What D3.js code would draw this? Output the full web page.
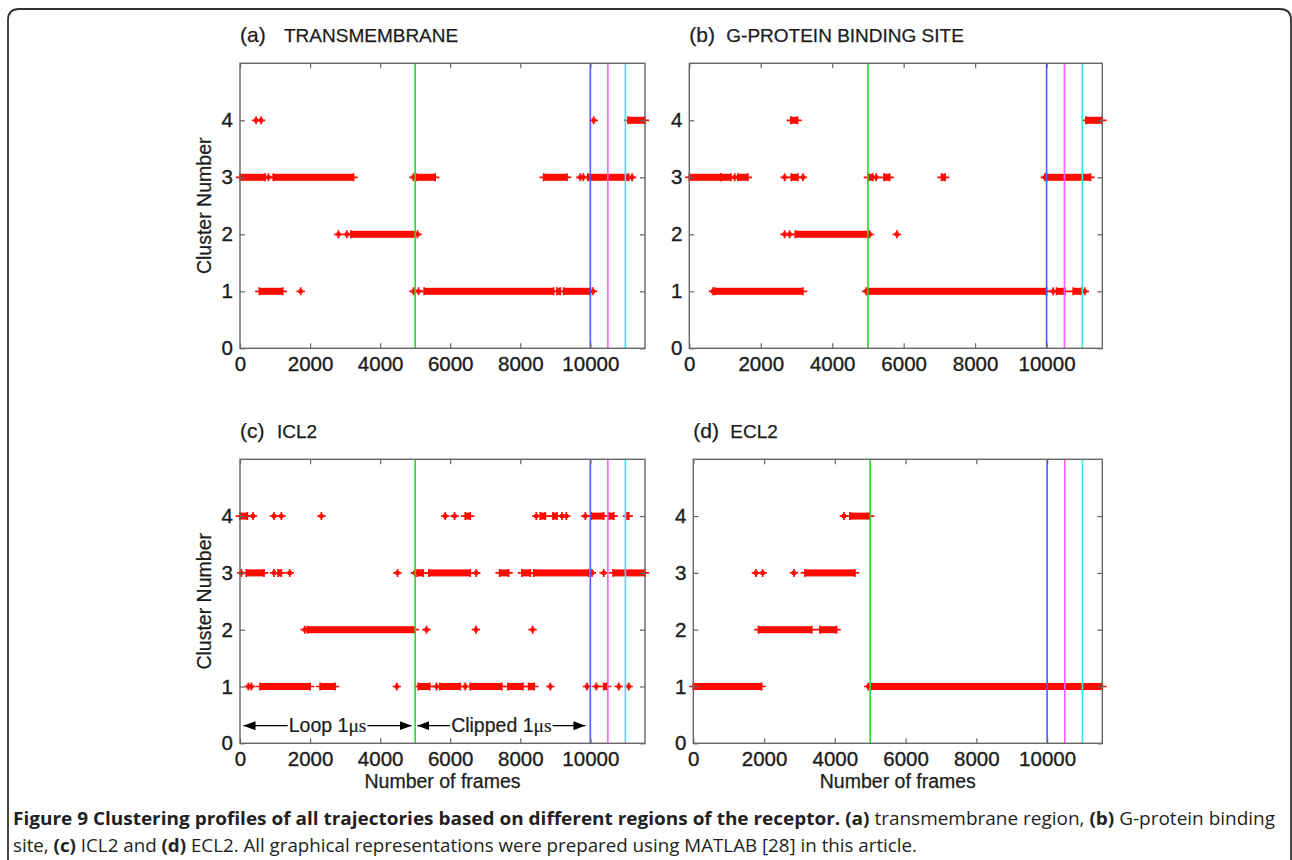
<!DOCTYPE html>
<html>
<head>
<meta charset="utf-8">
<script src="https://cdn.jsdelivr.net/npm/d3@7/dist/d3.min.js"></script>
<style>
  html, body { margin: 0; padding: 0; background: #fff; }
  svg { display: block; }
</style>
</head>
<body>
<svg id="chart" width="1292" height="860"></svg>
<script>
// ---------------- DATA ----------------
// Each run: [startFrame, endFrame, clusterNumber]; start === end means an isolated point.
const panelLetters = ["(a)", "(b)", "(c)", "(d)"];
const panelNames = ["TRANSMEMBRANE", "G-PROTEIN BINDING SITE", "ICL2", "ECL2"];
const xTicks = [0, 2000, 4000, 6000, 8000, 10000];
const yTicks = [0, 1, 2, 3, 4];
const frameMax = 11560;
const clusterMax = 5;
const markerFrames = [5000, 10000, 10500, 11000];
const markerColors = ["#2ad82a", "#4a5cff", "#ff5cff", "#2eeaea"];

const tmRuns = [
  [457, 457, 4], [600, 600, 4], [10095, 10095, 4], [11076, 11560, 4],
  [0, 715, 3], [810, 810, 3], [950, 3240, 3], [4952, 4952, 3], [5030, 5570, 3],
  [8667, 9333, 3], [9714, 9714, 3], [9800, 9800, 3], [9924, 11095, 3], [11190, 11190, 3],
  [2810, 2810, 2], [3048, 3048, 2], [3162, 5000, 2], [5067, 5067, 2],
  [552, 1219, 1], [1733, 1733, 1], [4952, 4952, 1], [5095, 5095, 1],
  [5257, 8952, 1], [9048, 9143, 1], [9238, 10000, 1], [10076, 10076, 1]
];

const gpRuns = [
  [2840, 3030, 4], [11100, 11560, 4],
  [0, 885, 3], [885, 1165, 3], [1270, 1270, 3], [1360, 1640, 3],
  [2668, 2668, 3], [2854, 3041, 3], [3180, 3180, 3],
  [5000, 5140, 3], [5230, 5230, 3], [5448, 5607, 3], [7060, 7160, 3],
  [9953, 9953, 3], [10000, 11230, 3],
  [2668, 2668, 2], [2808, 2808, 2], [2966, 5000, 2], [5050, 5050, 2], [5810, 5810, 2],
  [663, 663, 1], [710, 3180, 1], [4952, 4952, 1], [5000, 10000, 1],
  [10185, 10185, 1], [10280, 10513, 1], [10745, 10980, 1], [11070, 11070, 1]
];

const icl2Runs = [
  [0, 210, 4], [371, 371, 4], [971, 971, 4], [1181, 1181, 4], [2324, 2324, 4],
  [5857, 5857, 4], [6124, 6124, 4], [6429, 6571, 4],
  [8457, 8457, 4], [8571, 8714, 4], [8933, 9048, 4], [9190, 9190, 4], [9314, 9314, 4],
  [9857, 9857, 4], [10019, 10381, 4], [10524, 10667, 4], [11048, 11095, 4],
  [38, 38, 3], [181, 686, 3], [971, 971, 3], [1086, 1181, 3], [1419, 1419, 3],
  [4495, 4495, 3], [4990, 4990, 3], [5057, 5229, 3], [5390, 6571, 3], [6743, 6743, 3],
  [7410, 7667, 3], [8048, 8286, 3], [8381, 9952, 3], [10048, 10048, 3],
  [10381, 10381, 3], [10648, 11560, 3],
  [1848, 1848, 2], [1924, 4990, 2], [5324, 5324, 2], [6733, 6733, 2], [8352, 8352, 2],
  [238, 238, 1], [324, 324, 1], [571, 2000, 1], [2286, 2714, 1], [4476, 4476, 1],
  [5086, 5419, 1], [5610, 5610, 1], [5705, 6286, 1], [6429, 6429, 1],
  [6571, 7476, 1], [7648, 8076, 1], [8238, 8400, 1], [8857, 8857, 1],
  [9905, 9905, 1], [10171, 10171, 1], [10381, 10476, 1], [10810, 10810, 1], [11095, 11095, 1]
];

const ecl2Runs = [
  [4257, 4257, 4], [4427, 5000, 4],
  [1771, 1771, 3], [1960, 1960, 3], [2845, 2845, 3], [3155, 4568, 3],
  [1841, 3347, 2], [3579, 4050, 2],
  [0, 1932, 1], [4944, 4944, 1], [5011, 11560, 1]
];

const panelRuns = [tmRuns, gpRuns, icl2Runs, ecl2Runs];

// Annotation arrows in panel (c): [fromFrame, toFrame, label, unit]
const annotations = [
  [100, 4900, "Loop 1", "μs"],
  [5060, 9860, "Clipped 1", "μs"]
];

const captionLine1 = [
  ["Figure 9 Clustering profiles of all trajectories based on different regions of the receptor.", true],
  [" ", false], ["(a)", true], [" transmembrane region, ", false],
  ["(b)", true], [" G-protein binding", false]
];
const captionLine2 = [
  ["site, ", false], ["(c)", true], [" ICL2 and ", false], ["(d)", true],
  [" ECL2. All graphical representations were prepared using MATLAB [28] in this article.", false]
];

// ---------------- LAYOUT ----------------
const boxes = [
  {l: 240, r: 645, t: 63.3, b: 348.3, ylab: true, xlab: false, nameDx: 44},
  {l: 689.3, r: 1102.3, t: 63.3, b: 348.3, ylab: false, xlab: false, nameDx: 37},
  {l: 240, r: 645, t: 459.3, b: 743.3, ylab: true, xlab: true, nameDx: 37},
  {l: 693.3, r: 1102.3, t: 459.3, b: 743.3, ylab: false, xlab: true, nameDx: 37}
];

const svg = d3.select("#chart");
const FONT = "'Liberation Sans', Arial, sans-serif";
const RED = "#ff0a00";
const TXT = "#1c1c1c";

// outer frame
svg.append("path")
  .attr("d", "M8,870 L8,20 Q8,9 19,9 L1280,9 Q1291,9 1291,20 L1291,870")
  .attr("fill", "none").attr("stroke", "#333").attr("stroke-width", 1.8);

// arrow marker defs
const defs = svg.append("defs");
defs.append("marker").attr("id", "arrow")
  .attr("viewBox", "0 0 12 9").attr("refX", 12).attr("refY", 4.5)
  .attr("markerWidth", 12).attr("markerHeight", 9).attr("markerUnits", "userSpaceOnUse")
  .attr("orient", "auto")
  .append("path").attr("d", "M0,0 L12,4.5 L0,9 Z").attr("fill", "#000");

boxes.forEach((bx, i) => {
  const x = d3.scaleLinear().domain([0, frameMax]).range([bx.l, bx.r]);
  const y = d3.scaleLinear().domain([0, clusterMax]).range([bx.b, bx.t]);
  const g = svg.append("g");

  // title
  const titleY = bx.t - 21.6;
  g.append("text").attr("x", bx.l).attr("y", titleY)
    .attr("font-family", FONT).attr("font-size", 21).attr("fill", TXT)
    .attr("stroke", TXT).attr("stroke-width", 0.25)
    .text(panelLetters[i]);
  g.append("text").attr("x", bx.l + bx.nameDx).attr("y", titleY)
    .attr("font-family", FONT).attr("font-size", 19).attr("fill", TXT)
    .attr("stroke", TXT).attr("stroke-width", 0.25)
    .text(panelNames[i]);

  // data marks
  const runs = panelRuns[i];
  const marks = g.append("g");
  const plus = (cx, cy) => `M${cx - 4.2},${cy}H${cx + 4.2}M${cx},${cy - 4}V${cy + 4}`;
  marks.selectAll("rect.run").data(runs.filter(d => d[1] > d[0])).join("rect")
    .attr("class", "run")
    .attr("x", d => x(d[0])).attr("width", d => Math.max(0.5, x(d[1]) - x(d[0])))
    .attr("y", d => y(d[2]) - 3.5).attr("height", 7)
    .attr("fill", RED);
  marks.selectAll("path.pt").data(runs).join("path")
    .attr("class", "pt")
    .attr("d", d => d[0] === d[1] ? plus(x(d[0]), y(d[2])) : plus(x(d[0]), y(d[2])) + plus(x(d[1]), y(d[2])))
    .attr("stroke", RED).attr("stroke-width", 1.7).attr("fill", "none");
  marks.selectAll("rect.dot").data(runs.filter(d => d[1] === d[0])).join("rect")
    .attr("class", "dot")
    .attr("x", d => x(d[0]) - 2).attr("y", d => y(d[2]) - 2)
    .attr("width", 4).attr("height", 4).attr("fill", RED);

  // vertical marker lines
  g.selectAll("line.vl").data(markerFrames).join("line")
    .attr("class", "vl")
    .attr("x1", d => x(d)).attr("x2", d => x(d))
    .attr("y1", bx.t).attr("y2", bx.b)
    .attr("stroke", (d, k) => markerColors[k]).attr("stroke-width", 1.6);

  // axes (MATLAB-style box with inward ticks)
  const tickStyle = sel => {
    sel.select(".domain").remove();
    sel.selectAll(".tick line").attr("stroke", "#666").attr("stroke-width", 1.2);
    sel.selectAll(".tick text").attr("font-family", FONT).attr("font-size", 20.5)
      .attr("fill", TXT).attr("stroke", TXT).attr("stroke-width", 0.35);
  };
  g.append("g").attr("transform", `translate(0,${bx.b})`)
    .call(d3.axisBottom(x).tickValues(xTicks).tickSizeInner(-5).tickSizeOuter(0).tickPadding(8).tickFormat(d3.format("d")))
    .call(tickStyle);
  g.append("g").attr("transform", `translate(0,${bx.t})`)
    .call(d3.axisTop(x).tickValues(xTicks).tickSizeInner(-5).tickSizeOuter(0).tickFormat(""))
    .call(tickStyle);
  g.append("g").attr("transform", `translate(${bx.l},0)`)
    .call(d3.axisLeft(y).tickValues(yTicks).tickSizeInner(-5).tickSizeOuter(0).tickPadding(7).tickFormat(d3.format("d")))
    .call(tickStyle);
  g.append("g").attr("transform", `translate(${bx.r},0)`)
    .call(d3.axisRight(y).tickValues(yTicks).tickSizeInner(-5).tickSizeOuter(0).tickFormat(""))
    .call(tickStyle);
  g.append("rect").attr("x", bx.l).attr("y", bx.t)
    .attr("width", bx.r - bx.l).attr("height", bx.b - bx.t)
    .attr("fill", "none").attr("stroke", "#666").attr("stroke-width", 1.4);

  if (bx.ylab) {
    g.append("text")
      .attr("transform", `translate(${bx.l - 29},${(bx.t + bx.b) / 2}) rotate(-90)`)
      .attr("text-anchor", "middle")
      .attr("font-family", FONT).attr("font-size", 19.5).attr("fill", TXT)
      .attr("stroke", TXT).attr("stroke-width", 0.25)
      .text("Cluster Number");
  }
  if (bx.xlab) {
    g.append("text")
      .attr("x", (bx.l + bx.r) / 2).attr("y", bx.b + 45)
      .attr("text-anchor", "middle")
      .attr("font-family", FONT).attr("font-size", 19.5).attr("fill", TXT)
      .attr("stroke", TXT).attr("stroke-width", 0.25)
      .text("Number of frames");
  }

  if (i === 2) {
    const ay = y(0.31);
    annotations.forEach(a => {
      const x0 = x(a[0]), x1 = x(a[1]);
      const t = g.append("text").attr("x", (x0 + x1) / 2).attr("y", ay + 6.5)
        .attr("text-anchor", "middle")
        .attr("font-family", FONT).attr("font-size", 19.5).attr("fill", TXT)
        .attr("stroke", TXT).attr("stroke-width", 0.2);
      t.append("tspan").text(a[2]);
      t.append("tspan").attr("font-family", "'Liberation Serif', serif").text(a[3]);
      const bb = t.node().getBBox();
      g.append("line").attr("x1", bb.x - 1).attr("x2", x0).attr("y1", ay).attr("y2", ay)
        .attr("stroke", "#000").attr("stroke-width", 1.2).attr("marker-end", "url(#arrow)");
      g.append("line").attr("x1", bb.x + bb.width + 1).attr("x2", x1).attr("y1", ay).attr("y2", ay)
        .attr("stroke", "#000").attr("stroke-width", 1.2).attr("marker-end", "url(#arrow)");
    });
  }
});

// caption
const CAP = "'Open Sans', 'Noto Sans', sans-serif";
function caption(parts, yPos, len) {
  const t = svg.append("text").attr("x", 13).attr("y", yPos)
    .attr("font-family", CAP).attr("font-size", 17.5).attr("fill", "#231f20")
    .attr("textLength", len).attr("lengthAdjust", "spacingAndGlyphs");
  parts.forEach(p => t.append("tspan").attr("font-weight", p[1] ? 700 : 400).text(p[0]));
}
caption(captionLine1, 825, 1262);
caption(captionLine2, 852, 904);
</script>
</body>
</html>
